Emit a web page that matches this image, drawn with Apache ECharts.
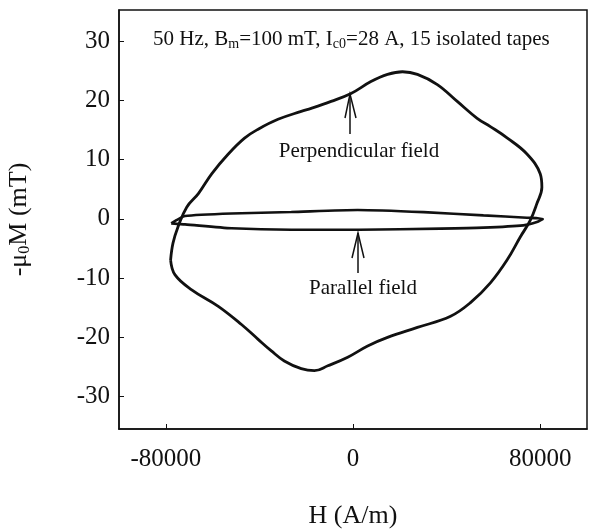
<!DOCTYPE html>
<html>
<head>
<meta charset="utf-8">
<script src="https://cdn.jsdelivr.net/npm/echarts@6/dist/echarts.min.js"></script>
<style>
  html, body { margin: 0; padding: 0; background: #fff; }
  #chart { width: 589px; height: 530px; }
</style>
</head>
<body>
<div id="chart"></div>
<script>
// H (A/m) and -mu0 M (mT), going round each loop
const perpH = [-77950, -76930, -74800, -71060, -66080, -60390, -53290, -46350, -40520, -32040,
  -22125, -17870, -9360, -850, 7660, 14770, 21150, 27530, 36040, 44550, 53060, 58700, 65830,
  74340, 80000, 80720, 78590, 75740, 71485, 65830, 58720, 50210, 41700, 27530, 14770, 6260,
  -2255, -10765, -16500, -22125, -29360, -34890, -40550, -47660, -57570, -68930, -76040, -77950]
const perpM = [-6.95, -4.10, -1.37, 1.98, 4.27, 7.62, 10.97, 13.65, 15.16, 16.83,
  18.17, 18.68, 19.85, 21.19, 23.2, 24.42, 24.87, 24.42, 22.7, 19.85, 17.0, 15.6, 13.7,
  10.97, 7.62, 5.33, 2.6, -0.25, -3.05, -6.95, -10.8, -14.15, -16.45, -18.34, -20.02, -21.47,
  -23.37, -24.82, -25.65, -25.3, -24.0, -22.3, -20.35, -17.84, -14.77, -11.98, -9.46, -6.95]

const paraH = [-77680, -75300, -71780, -51910, -26380, 2000, 30210, 55740, 74340, 81150,
  78590, 72760, 55740, 37440, 2550, -26380, -51910, -71780, -75300, -77680]
const paraM = [-0.75, -0.17, 0.5, 0.92, 1.17, 1.5, 1.14, 0.59, 0.2, 0.0,
  -0.54, -1.09, -1.47, -1.64, -1.84, -1.84, -1.59, -0.92, -0.84, -0.75]

const xTicks = [-80000, 0, 80000]
const yTicks = [-30, -20, -10, 0, 10, 20, 30]

const FONT = '"Liberation Serif", "DejaVu Serif", serif'
const INK = '#111'

const chart = echarts.init(document.getElementById('chart'))

const option = {
  animation: false,
  backgroundColor: '#fff',
  grid: {
    left: 119,
    right: 2,
    top: 10,
    bottom: 101,
    outerBoundsMode: 'none',
    show: true,
    borderColor: INK,
    borderWidth: 1.5
  },
  xAxis: {
    type: 'value',
    min: -100000,
    max: 100000,
    name: 'H (A/m)',
    nameLocation: 'middle',
    nameGap: 74,
    nameTextStyle: { fontFamily: FONT, fontSize: 26, color: INK },
    axisLine: { show: true, onZero: false, lineStyle: { color: INK, width: 1.5 } },
    axisTick: { show: true, inside: true, length: 5, customValues: xTicks, lineStyle: { color: INK } },
    axisLabel: {
      customValues: xTicks,
      formatter: v => String(v),
      margin: 18,
      fontFamily: FONT,
      fontSize: 25,
      color: INK
    },
    splitLine: { show: false }
  },
  yAxis: {
    type: 'value',
    min: -35.5,
    max: 35.3,
    name: '-μ{sub|0}M (mT)',
    nameLocation: 'middle',
    nameGap: 86,
    nameRotate: 90,
    nameTextStyle: {
      fontFamily: FONT, fontSize: 26, color: INK,
      rich: { sub: { fontFamily: FONT, fontSize: 16, color: INK, verticalAlign: 'bottom', padding: [12, 0, 0, 0] } }
    },
    axisLine: { show: true, onZero: false, lineStyle: { color: INK, width: 1.5 } },
    axisTick: { show: true, inside: true, length: 5, customValues: yTicks, lineStyle: { color: INK } },
    axisLabel: {
      customValues: yTicks,
      margin: 9,
      fontFamily: FONT,
      fontSize: 25,
      color: INK
    },
    splitLine: { show: false }
  },
  series: [
    {
      name: 'Perpendicular field',
      type: 'line',
      data: perpH.map((h, i) => [h, perpM[i]]),
      smooth: 0.4,
      symbol: 'none',
      lineStyle: { color: INK, width: 2.8 }
    },
    {
      name: 'Parallel field',
      type: 'line',
      data: paraH.map((h, i) => [h, paraM[i]]),
      smooth: 0.2,
      symbol: 'none',
      lineStyle: { color: INK, width: 2.6 }
    }
  ],
  graphic: [
    {
      type: 'text',
      left: 153,
      top: 29,
      style: {
        text: '50 Hz, B{sub|m}=100 mT, I{sub|c0}=28 A, 15 isolated tapes',
        font: '21px ' + FONT,
        fill: INK,
        rich: {
          sub: { fontFamily: FONT, fontSize: 14, fill: INK, verticalAlign: 'bottom', padding: [10, 0, 0, 0] }
        }
      }
    },
    {
      type: 'text',
      x: 359,
      y: 151,
      style: { text: 'Perpendicular field', font: '21px ' + FONT, fill: INK, align: 'center', verticalAlign: 'middle' }
    },
    {
      type: 'text',
      x: 363,
      y: 288,
      style: { text: 'Parallel field', font: '21px ' + FONT, fill: INK, align: 'center', verticalAlign: 'middle' }
    },
    // arrow to the perpendicular loop
    { type: 'line', shape: { x1: 350, y1: 94, x2: 350, y2: 134 }, style: { stroke: INK, lineWidth: 1.5 } },
    { type: 'polyline', shape: { points: [[345, 118], [350, 94], [356, 118]] }, style: { stroke: INK, fill: null, lineWidth: 1.5 } },
    // arrow to the parallel loop
    { type: 'line', shape: { x1: 358, y1: 233, x2: 358, y2: 273 }, style: { stroke: INK, lineWidth: 1.5 } },
    { type: 'polyline', shape: { points: [[352, 258], [358, 233], [364, 258]] }, style: { stroke: INK, fill: null, lineWidth: 1.5 } }
  ]
}

chart.setOption(option)
window.addEventListener('resize', () => chart.resize())
</script>
</body>
</html>
